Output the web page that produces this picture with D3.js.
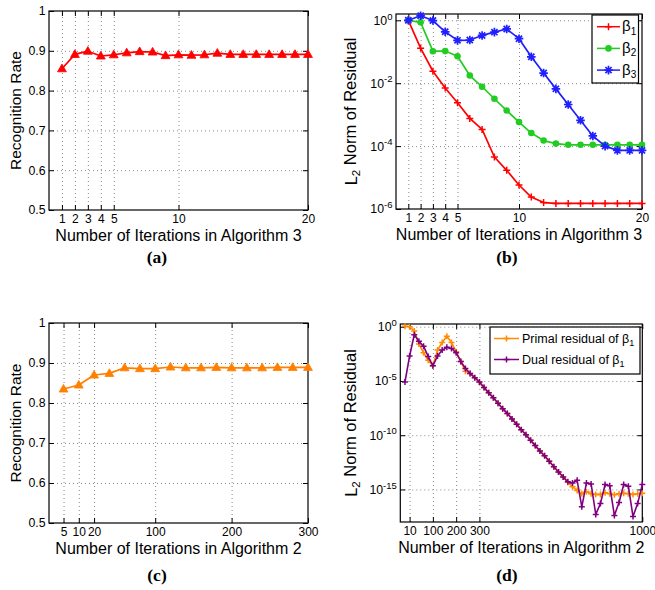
<!DOCTYPE html>
<html><head><meta charset="utf-8">
<script src="https://cdn.jsdelivr.net/npm/d3@7"></script>
<style>
body{margin:0;background:#fff}
</style>
</head><body>
<svg id="chart" width="655" height="590" xmlns="http://www.w3.org/2000/svg" font-family='"Liberation Sans",Arial,Helvetica,sans-serif'></svg>
<script>
// ---------------- DATA ----------------
// (a) Recognition rate vs iterations of Algorithm 3
const iterA = [1,2,3,4,5,6,7,8,9,10,11,12,13,14,15,16,17,18,19,20];
const rateA = [0.855,0.891,0.899,0.887,0.890,0.895,0.898,0.897,0.888,0.890,0.889,0.890,0.894,0.891,0.891,0.891,0.891,0.891,0.891,0.891];
const ticksA = [1,2,3,4,5,10,20];

// (b) L2 norm of residual, Algorithm 3
const iterB = [1,2,3,4,5,6,7,8,9,10,11,12,13,14,15,16,17,18,19,20];
const beta1B = [1,0.13,0.024,7e-3,2.4e-3,7.6e-4,3.4e-4,4.5e-5,1.7e-5,5.8e-6,2.4e-6,1.6e-6,1.5e-6,1.5e-6,1.5e-6,1.5e-6,1.5e-6,1.5e-6,1.5e-6,1.5e-6];
const beta2B = [1,0.86,0.104,0.105,0.072,0.0175,7.7e-3,3.2e-3,1.35e-3,5.8e-4,2.6e-4,1.5e-4,1.2e-4,1.1e-4,1.1e-4,1.1e-4,1.1e-4,1.1e-4,1.1e-4,1.1e-4];
const beta3B = [1,1.4,0.98,0.43,0.23,0.235,0.33,0.42,0.53,0.26,0.069,0.021,6.6e-3,2.1e-3,6.6e-4,2.1e-4,1e-4,7.3e-5,7.3e-5,7.3e-5];
const ticksB = [1,2,3,4,5,10,20];
const yExpB = [0,-2,-4,-6];
const legendB = ["1","2","3"];

// (c) Recognition rate vs iterations of Algorithm 2
const iterC = [5,10,20,40,60,80,100,120,140,160,180,200,220,240,260,280,300];
const rateC = [0.835,0.845,0.870,0.874,0.888,0.886,0.886,0.890,0.888,0.888,0.889,0.888,0.888,0.888,0.889,0.889,0.889];
const ticksC = [5,10,20,100,200,300];

// (d) primal / dual residual of beta_1, Algorithm 2
const iterD = [5,10,20,40,60,80,100,120,140,160,180,200,220,240,260,280,300,320,340,360,380,400,420,440,460,480,500,520,540,560,580,600,620,640,660,680,700,720,740,760,780,800,820,840,860,880,900,920,940,960,980,1000];
const primalD = [1.12,1.0,0.4,0.025,4e-3,8e-4,2.5e-4,7e-3,0.035,0.13,0.035,5e-3,6.3e-4,8e-5,5e-5,2e-5,8e-6,2.5e-6,8e-7,2.8e-7,9e-8,2.8e-8,1e-8,3.2e-9,1e-9,3.2e-10,1.1e-10,3.5e-11,1.1e-11,3.5e-12,1.26e-12,4e-13,1.26e-13,4e-14,1.4e-14,4.5e-15,1.8e-15,8e-16,4e-16,6.3e-16,4e-16,3.5e-16,3.5e-16,5e-16,4e-16,3.2e-16,4e-16,4.5e-16,4e-16,3.5e-16,4e-16,4.5e-16];
const dualD = [8e-6,2e-3,0.18,0.045,0.016,1.8e-3,2.5e-4,2e-3,7e-3,0.0126,0.01,4e-3,6.3e-4,1.4e-4,5e-5,2e-5,8e-6,2.5e-6,8e-7,2.8e-7,9e-8,2.8e-8,1e-8,3.2e-9,1e-9,3.2e-10,1.1e-10,3.5e-11,1.1e-11,3.5e-12,1.26e-12,4e-13,1.26e-13,4e-14,1.4e-14,5e-15,4e-15,7e-15,2.5e-17,4e-15,3.2e-15,5e-18,5e-17,2.8e-15,2.2e-15,4e-18,6.3e-17,2.8e-15,2e-15,3.2e-18,5e-17,2.8e-15];
const ticksD = [10,100,200,300,1000];
const yExpD = [0,-5,-10,-15];
const legendD = ["Primal residual of β", "Dual residual of β"];

// ---------------- DRAWING ----------------
const svg = d3.select("#chart");
const FONT = '"Liberation Sans",Arial,Helvetica,sans-serif';
const SERIF = '"Liberation Serif","Times New Roman",Times,serif';

function plusPath(r){ return `M${-r},0H${r}M0,${-r}V${r}`; }
function starPath(r){ const a = r*0.72; return `M${-r},0H${r}M0,${-r}V${r}M${-a},${-a}L${a},${a}M${-a},${a}L${a},${-a}`; }

function styleAxis(g, size){
  g.attr("font-family", FONT).attr("font-size", size);
  g.select(".domain").remove();
  g.selectAll("line").attr("stroke","#000").attr("stroke-width",1);
  g.selectAll("text").attr("fill","#000");
}

function panel(cfg){
  const x = cfg.x, y = cfg.y;
  const [L,R] = x.range(); const [B,T] = y.range();
  const g = svg.append("g");
  // grid
  const gxv = cfg.xTickVals.filter(v => x(v) > L+1 && x(v) < R-1);
  const gx = g.append("g").attr("transform",`translate(0,${B})`)
    .call(d3.axisBottom(x).tickValues(gxv).tickSize(-(B-T)).tickFormat(""));
  gx.select(".domain").remove();
  gx.selectAll("line").attr("stroke","#8a8a8a").attr("stroke-dasharray","1,3");
  const gyv = cfg.yTickVals.filter(v => y(v) < B-1 && y(v) > T+1);
  const gy = g.append("g").attr("transform",`translate(${L},0)`)
    .call(d3.axisLeft(y).tickValues(gyv).tickSize(-(R-L)).tickFormat(""));
  gy.select(".domain").remove();
  gy.selectAll("line").attr("stroke","#8a8a8a").attr("stroke-dasharray","1,3");

  // inner ticks and labels
  const ab = g.append("g").attr("transform",`translate(0,${B})`)
    .call(d3.axisBottom(x).tickValues(cfg.xTickVals).tickFormat(cfg.xFmt).tickSizeInner(-5).tickSizeOuter(0).tickPadding(4.8));
  styleAxis(ab, 12);
  const at = g.append("g").attr("transform",`translate(0,${T})`)
    .call(d3.axisTop(x).tickValues(cfg.xTickVals).tickFormat("").tickSizeInner(-5).tickSizeOuter(0));
  styleAxis(at, 12);
  const al = g.append("g").attr("transform",`translate(${L},0)`)
    .call(d3.axisLeft(y).tickValues(cfg.yTickVals).tickFormat(cfg.yLog ? (()=>"") : cfg.yFmt).tickSizeInner(-5).tickSizeOuter(0).tickPadding(3.5));
  styleAxis(al, 12.3);
  if (cfg.yLog){
    al.selectAll(".tick text").each(function(d){
      const e = Math.round(Math.log10(d));
      const t = d3.select(this);
      t.text(null);
      t.append("tspan").text("10");
      t.append("tspan").attr("dy","-0.55em").attr("font-size","9.5px").text(String(e));
    });
  }
  const ar = g.append("g").attr("transform",`translate(${R},0)`)
    .call(d3.axisRight(y).tickValues(cfg.yTickVals).tickFormat("").tickSizeInner(-5).tickSizeOuter(0));
  styleAxis(ar, 12);

  // box
  g.append("rect").attr("x",L).attr("y",T).attr("width",R-L).attr("height",B-T)
    .attr("fill","none").attr("stroke","#000").attr("stroke-width",1.2);

  // x title
  g.append("text").attr("x",(L+R)/2).attr("y",B+31).attr("text-anchor","middle")
    .attr("font-family",FONT).attr("font-size",16).text(cfg.xTitle);
  // y title
  const yt = g.append("text").attr("transform",`translate(${cfg.yTitleX},${(T+B)/2}) rotate(-90)`)
    .attr("text-anchor","middle").attr("font-family",FONT).attr("font-size",cfg.yTitleSize);
  if (cfg.ySub){
    yt.append("tspan").text("L");
    yt.append("tspan").attr("dy","0.3em").attr("font-size","0.7em").text("2");
    yt.append("tspan").attr("dy","-0.3em").text(" Norm of Residual");
  } else yt.text(cfg.yTitle);

  // caption
  g.append("text").attr("x",cfg.capX).attr("y",cfg.capY).attr("text-anchor","middle")
    .style("font-family",SERIF).style("font-weight","bold")
    .style("font-size","17.5px").text(cfg.caption);
  return g;
}

function drawSeries(g, xs, ys, x, y, color, marker, lw){
  g.append("path").datum(ys)
    .attr("d", d3.line().x((d,i)=>x(xs[i])).y(d=>y(d)))
    .attr("fill","none").attr("stroke",color).attr("stroke-width",lw||1.7).attr("stroke-linejoin","round");
  const m = g.append("g");
  ys.forEach((v,i)=>{
    drawMarker(m, x(xs[i]), y(v), color, marker);
  });
}
function drawMarker(m, px, py, color, marker){
  if (marker === "tri"){
    m.append("path").attr("d", d3.symbol(d3.symbolTriangle, 34)()).attr("transform",`translate(${px},${py+0.5})`)
      .attr("fill",color).attr("stroke",color).attr("stroke-width",0.8);
  } else if (marker === "circle"){
    m.append("circle").attr("cx",px).attr("cy",py).attr("r",3.3).attr("fill",color);
  } else if (marker === "plus"){
    m.append("path").attr("d",plusPath(3.5)).attr("transform",`translate(${px},${py})`)
      .attr("stroke",color).attr("stroke-width",1.5).attr("fill","none");
  } else if (marker === "plusS"){
    m.append("path").attr("d",plusPath(3)).attr("transform",`translate(${px},${py})`)
      .attr("stroke",color).attr("stroke-width",1.5).attr("fill","none");
  } else if (marker === "star"){
    m.append("path").attr("d",starPath(4.3)).attr("transform",`translate(${px},${py})`)
      .attr("stroke",color).attr("stroke-width",1.7).attr("fill","none");
  }
}

// ---- Panel (a)
{
  const x = d3.scaleLinear().domain([0,20]).range([49,308]);
  const y = d3.scaleLinear().domain([0.5,1]).range([210,11]);
  const g = panel({x, y, xTickVals: ticksA, xFmt: d=>String(d),
    yTickVals:[0.5,0.6,0.7,0.8,0.9,1], yFmt: d=> d===1 ? "1" : d.toFixed(1),
    xTitle:"Number of Iterations in Algorithm 3", yTitle:"Recognition Rate", yTitleX:21, yTitleSize:15.5,
    caption:"(a)", capX:157, capY:263});
  drawSeries(g, iterA, rateA, x, y, "#ff0000", "tri");
}
// ---- Panel (b)
{
  const x = d3.scaleLinear().domain([0,20]).range([396,642]);
  const y = d3.scaleLog().domain([1e-6, Math.pow(10,0.2)]).range([209,14]);
  const g = panel({x, y, xTickVals: ticksB, xFmt: d=>String(d),
    yTickVals: yExpB.map(e=>Math.pow(10,e)), yLog:true,
    xTitle:"Number of Iterations in Algorithm 3", ySub:true, yTitleX:357, yTitleSize:16.5,
    caption:"(b)", capX:507, capY:263});
  drawSeries(g, iterB, beta1B, x, y, "#ff0000", "plus");
  drawSeries(g, iterB, beta2B, x, y, "#22cc22", "circle");
  drawSeries(g, iterB, beta3B, x, y, "#2020ff", "star");
  // legend
  const lg = g.append("g");
  lg.append("rect").attr("x",592).attr("y",15).attr("width",46.5).attr("height",68)
    .attr("fill","#fff").attr("stroke","#000").attr("stroke-width",1.2);
  const cols = ["#ff0000","#22cc22","#2020ff"], mk = ["plus","circle","star"];
  legendB.forEach((s,i)=>{
    const cy = 26.7 + i*21.7;
    lg.append("line").attr("x1",597).attr("x2",620).attr("y1",cy).attr("y2",cy).attr("stroke",cols[i]).attr("stroke-width",1.5);
    drawMarker(lg, 608.5, cy, cols[i], mk[i]);
    const t = lg.append("text").attr("x",622).attr("y",cy+4.5).attr("font-family",FONT).attr("font-size",15);
    t.append("tspan").text("β");
    t.append("tspan").attr("dy","0.35em").attr("font-size","10px").text(s);
  });
}
// ---- Panel (c)
{
  const idx = iterC.map((v,i)=>i+1);
  const x = d3.scaleLinear().domain([0.05,17]).range([49,308]);
  const y = d3.scaleLinear().domain([0.5,1]).range([523,323]);
  const g = panel({x, y, xTickVals: ticksC.map(v=>iterC.indexOf(v)+1), xFmt: d=>String(iterC[d-1]),
    yTickVals:[0.5,0.6,0.7,0.8,0.9,1], yFmt: d=> d===1 ? "1" : d.toFixed(1),
    xTitle:"Number of Iterations in Algorithm 2", yTitle:"Recognition Rate", yTitleX:21, yTitleSize:15.5,
    caption:"(c)", capX:157, capY:581});
  drawSeries(g, idx, rateC, x, y, "#ff8000", "tri");
}
// ---- Panel (d)
{
  const idx = iterD.map((v,i)=>i+1);
  const x = d3.scaleLinear().domain([0,52]).range([400.3,642.3]);
  const y = d3.scaleLog().domain([1e-18, Math.pow(10,0.25)]).range([522,324]);
  const g = panel({x, y, xTickVals: ticksD.map(v=>iterD.indexOf(v)+1), xFmt: d=>String(iterD[d-1]),
    yTickVals: yExpD.map(e=>Math.pow(10,e)), yLog:true,
    xTitle:"Number of Iterations in Algorithm 2", ySub:true, yTitleX:357, yTitleSize:16.5,
    caption:"(d)", capX:507, capY:581});
  drawSeries(g, idx, primalD, x, y, "#ff8c00", "plusS", 1.6);
  drawSeries(g, idx, dualD, x, y, "#800080", "plusS", 1.6);
  const lg = g.append("g");
  lg.append("rect").attr("x",490).attr("y",327).attr("width",150).attr("height",47)
    .attr("fill","#fff").attr("stroke","#000").attr("stroke-width",1.2);
  const cols = ["#ff8c00","#800080"];
  legendD.forEach((s,i)=>{
    const cy = 338.5 + i*21;
    lg.append("line").attr("x1",494).attr("x2",519).attr("y1",cy).attr("y2",cy).attr("stroke",cols[i]).attr("stroke-width",1.5);
    drawMarker(lg, 506.5, cy, cols[i], "plusS");
    const t = lg.append("text").attr("x",522).attr("y",cy+4.5).attr("font-family",FONT).attr("font-size",12.5);
    t.append("tspan").text(s);
    t.append("tspan").attr("dy","0.35em").attr("font-size","9px").text("1");
  });
}
</script>
</body></html>
